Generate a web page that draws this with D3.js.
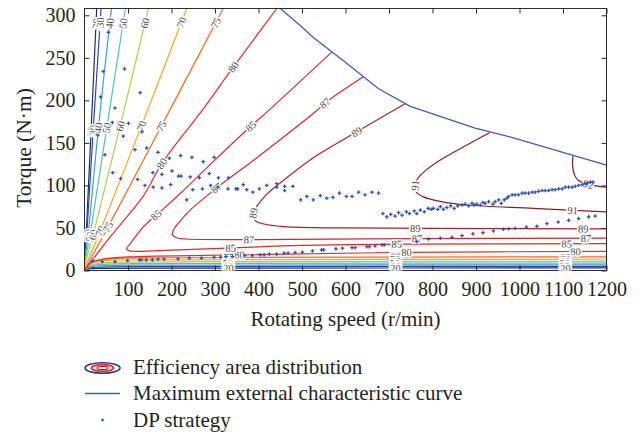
<!DOCTYPE html>
<html><head><meta charset="utf-8">
<script src="https://cdn.jsdelivr.net/npm/d3@7"></script>
<style>
body{margin:0;background:#fff}
svg text{font-family:"Liberation Serif","Times New Roman",serif;}
</style>
</head><body>
<svg id="chart" width="640" height="436"></svg>
<script>
// ---- efficiency contour levels (%) ----
const levels = [20, 30, 40, 50, 60, 70, 75, 80, 85, 87, 89, 91, 92];

// iso-efficiency lines, [speed r/min, torque N·m]
const iso20 = [[28,308],[15,163],[4,44],[0,0],[10,1.8],[40,2.5],[200,2.8],[1200,3]];
const iso30 = [[38,308],[20,165],[5.5,44],[0,0],[10,2.8],[40,4],[200,4.5],[1200,4.8]];
const iso40 = [[62,308],[32,168],[9,44],[0,0],[10,3.8],[40,5.6],[200,6.3],[1200,6.6]];
const iso50 = [[94,308],[51,167],[13.5,44],[0,0],[10,4.8],[40,7.3],[200,8.2],[1200,8.6]];
const iso60 = [[147,308],[82,170],[21,44],[0,0],[12,6],[45,9],[200,10.2],[1200,10.7]];
const iso70 = [[235,308],[131,170],[35,45],[0,0],[12,7.5],[50,11.5],[200,12.6],[1200,13.2]];
const iso75 = [[319,308],[177,170],[54,51],[0,0],[12,8.5],[50,13.5],[200,15],[1200,16]];
const iso80 = [[442,308],[342,239],[270,188],[178,126],[137,89],[60,40],[0,0],[15,9.5],[50,14],[100,16],[356,18.5],[741,21.3],[1200,22.5]];
const iso85 = [[569,257],[423,188],[381,169],[300,130],[217,89],[178,71],[164,65],[133,50],[106,32],[97,26],[101,23.5],[125,22.5],[200,24],[335,26.5],[500,29.5],[718,31],[1200,31.5]];
const iso87 = [[642,228],[553,197],[534,188],[400,134],[304,97],[243,71],[218,57],[204,47],[202,42],[212,38.5],[235,37],[379,36.3],[764,37.5],[1200,38]];
const iso89 = [[737,196],[626,163],[519,130],[450,103],[417,88.6],[397,76],[388,67],[392,59],[410,55],[459,51.5],[600,50],[800,49.5],[1200,49]];
const iso91 = [[931,162],[856,141],[818,130],[785,118],[766,108],[760,100],[763,92],[779,86.6],[820,81],[879,77],[1032,73],[1200,69]];
const iso92 = [[1123,135],[1122,125],[1126,113],[1135,106],[1160,101],[1200,98]];
const isolines = [iso20, iso30, iso40, iso50, iso60, iso70, iso75, iso80, iso85, iso87, iso89, iso91, iso92];

// contour labels: [level, speed, torque]
const contourLabels = [
  [20,24,291],[30,37,291],[40,58,291],[50,90,291],[60,141,291],[70,226,291],[75,303,291],
  [20,14,163],[30,20,165],[40,30,168],[50,51,167],[60,82,170],[70,131,170],[75,177,170],
  [20,3.5,40],[30,5,42],[40,8,42],[50,12,40],[60,19,42],[70,36,46],[75,54,51],
  [80,342,239],[80,178,126],
  [85,164,65],[85,381,170],
  [87,304,97],[87,553,197],
  [89,390,67],[89,626,163],
  [91,760,100],[92,1159,104],
  [80,356,18.5],[80,741,21.3],[80,1129,22.5],
  [85,335,26.5],[85,718,31],[85,1109,31.5],
  [87,379,36.3],[87,764,37.5],[87,1153,38],
  [89,760,49.6],[89,1147,49],
  [91,1122,71],
  [75,330,15],[70,330,12.5],[60,330,10],[50,330,8],[40,330,6],[30,330,4.4],[20,330,2.7],
  [75,715,15.5],[70,715,12.8],[60,715,10.4],[50,715,8.4],[40,715,6.4],[30,715,4.6],[20,715,2.9],
  [75,1105,15.9],[70,1105,13.1],[60,1105,10.6],[50,1105,8.5],[40,1105,6.5],[30,1105,4.7],[20,1105,3]
];

// maximum external characteristic curve
const maxCurve = [[450,308],[496,288],[526,274],[599,245],[676,213.6],[749,193],[898,167.5],[978,157],[1200,124]];

// DP strategy operating points [speed, torque]
const dpPoints = [
  [55,280],[43,234],[92,237],[37,204],[128,209],[70,191],[64,174],[101,173],[31,159],[89,158],
  [132,163],[116,142],[143,144],[169,139],[47,136],[195,132],[221,135],[247,133],[273,128],[298,133],
  [65,115],[83,108],[122,107],[139,100],[158,98],[178,97],[198,101],[157,115],[178,113],[201,117],
  [216,111],[222,111],[243,110],[264,109],[287,114],[308,109],[331,109],[235,83],[249,95],[271,96],
  [290,100],[306,98],[330,96],[348,96],[352,96],[365,101],[373,95],[387,92],[402,96],[419,100],
  [442,102],[442,98],[460,99],[460,94],[479,99],
  [497,83],[511,87],[526,83],[542,88],[557,85],[571,86],[586,91],[602,87],[615,87],[630,92],
  [645,89],[661,92],[676,91],
  [686,67],[695,63],[704,66],[714,64],[722,68],[730,65],[740,69],[747,67],[758,70],[764,67],
  [772,71],[781,69],[790,73],[797,72],[802,73],[812,72],[818,75],[825,72],[833,74],[842,76],
  [850,73],[858,76],[868,77],[875,78],[883,76],[891,79],[896,77],[902,78],[910,77],[916,80],
  [921,79],[929,81],[939,78],[944,81],[952,83],[958,79],[965,83],[971,85],[975,87],[983,89],
  [990,89],[998,89],[1006,91],[1013,91],[1021,91],[1029,92],[1036,92],[1044,93],[1052,94],[1059,94],
  [1067,94],[1075,95],[1082,95],[1090,96],[1098,96],[1105,98],[1113,98],[1121,98],[1128,99],[1136,100],
  [1144,101],[1151,102],[1157,103],[1163,104],[1169,104],
  [18,11.4],[41,10.5],[70,10.5],[99,11.7],[126,12.5],[131,12.5],[142,12.5],[156,12.5],[169,13.3],[183,13.3],
  [215,13.7],[241,14.5],[269,14.5],[298,15.7],[313,15.7],[325,16.4],[340,16.4],[369,17.6],[386,17.6],[404,18.4],
  [413,18.4],[425,19.2],[442,19.2],[459,20.4],[468,20.4],[484,21.1],[501,21.5],[524,23],[545,24.2],[550,24.2],
  [578,25.4],[593,26.2],[615,26.9],[622,26.9],[649,28.1],[655,28.1],[668,28.9],[684,30.1],[689,30.1],
  [764,34],[791,37],[818,38],[845,39],[868,41],[893,43],[916,44.5],[940,46.5],[963,48.5],[975,49],
  [990,49.6],[1016,51],[1040,52],[1063,55],[1089,57],[1113,59],[1136,61],[1159,63],[1174,64]
];

// axis ticks
const xTicks = [100, 200, 300, 400, 500, 600, 700, 800, 900, 1000, 1100, 1200];
const yTicks = [0, 50, 100, 150, 200, 250, 300];

// legend entries
const legendItems = ["Efficiency area distribution", "Maximum external characteristic curve", "DP strategy"];

// ---- styles ----
const levelColors = ["#1f2a7a","#2c4aa5","#3b9bd9","#52c3b0","#a9d046","#f8a51f","#f26a21",
                     "#ea2d22","#dc2a2a","#c72b30","#a82226","#8c1d1f","#7e1a1c"];
const curveBlue = "#3d5cbc";
const dpBlue = "#2f4fb0";
const ink = "#231f20";

const svg = d3.select("#chart");
const x = d3.scaleLinear().domain([0, 1200]).range([84.5, 606.5]);
const y = d3.scaleLinear().domain([0, 308]).range([270.5, 8.5]);

svg.append("defs").append("clipPath").attr("id", "plotClip")
  .append("rect").attr("x", x(0)).attr("y", y(308))
  .attr("width", x(1200) - x(0)).attr("height", y(0) - y(308));

const plot = svg.append("g").attr("clip-path", "url(#plotClip)");
const smooth = d3.line().x(d => x(d[0])).y(d => y(d[1])).curve(d3.curveCatmullRom.alpha(0.5));

// contour lines
const isoNodes = {};
levels.forEach((lv, i) => {
  isoNodes[lv] = plot.append("path")
    .attr("d", smooth(isolines[i]))
    .attr("fill", "none")
    .attr("stroke", levelColors[i])
    .attr("stroke-width", 1.2)
    .node();
});

// maximum torque envelope
plot.append("path")
  .attr("d", d3.line().x(d => x(d[0])).y(d => y(d[1]))(maxCurve))
  .attr("fill", "none").attr("stroke", curveBlue).attr("stroke-width", 1.3);

// frame and ticks
svg.append("rect").attr("x", x(0)).attr("y", y(308))
  .attr("width", x(1200) - x(0)).attr("height", y(0) - y(308))
  .attr("fill", "none").attr("stroke", "#2a2a2a").attr("stroke-width", 1);

function styleAxis(g) {
  g.select(".domain").remove();
  g.attr("font-family", null).attr("font-size", null);
  g.selectAll("line").attr("stroke", "#2a2a2a");
  g.selectAll("text").attr("fill", ink).style("font-size", "20px");
}
const fmt = d3.format("d");
svg.append("g").attr("transform", `translate(0,${y(0)})`)
  .call(d3.axisBottom(x).tickValues(xTicks).tickFormat(fmt).tickSize(-5).tickSizeOuter(0).tickPadding(11)).call(styleAxis);
svg.append("g").attr("transform", `translate(0,${y(308)})`)
  .call(d3.axisTop(x).tickValues(xTicks).tickSize(-5).tickSizeOuter(0).tickFormat("")).call(styleAxis);
svg.append("g").attr("transform", `translate(${x(0)},0)`)
  .call(d3.axisLeft(y).tickValues(yTicks).tickFormat(fmt).tickSize(-5).tickSizeOuter(0).tickPadding(9)).call(styleAxis);
svg.append("g").attr("transform", `translate(${x(1200)},0)`)
  .call(d3.axisRight(y).tickValues(yTicks).tickSize(-5).tickSizeOuter(0).tickFormat("")).call(styleAxis);

// contour labels, set on their own line and turned along it
const labelLayer = svg.append("g").attr("clip-path", "url(#plotClip)");
contourLabels.forEach(([lv, s, t]) => {
  const node = isoNodes[lv];
  const total = node.getTotalLength();
  const px = x(s), py = y(t);
  let best = 0, bestD = Infinity;
  for (let L = 0; L <= total; L += 1) {
    const p = node.getPointAtLength(L);
    const d = (p.x - px) ** 2 + (p.y - py) ** 2;
    if (d < bestD) { bestD = d; best = L; }
  }
  const p = node.getPointAtLength(best);
  const a = node.getPointAtLength(Math.max(0, best - 3));
  const b = node.getPointAtLength(Math.min(total, best + 3));
  let ang = Math.atan2(b.y - a.y, b.x - a.x) * 180 / Math.PI;
  if (ang > 90) ang -= 180;
  if (ang < -90) ang += 180;
  labelLayer.append("text")
    .attr("transform", `translate(${p.x},${p.y}) rotate(${ang})`)
    .attr("text-anchor", "middle").attr("dy", "0.35em")
    .style("font-size", "10.5px")
    .attr("fill", "#4a4a4a")
    .attr("stroke", "#fff").attr("stroke-width", 3.2).attr("paint-order", "stroke")
    .text(lv);
});

// DP strategy points
const cross = (g, cx, cy, r) => g.append("path")
  .attr("d", `M${cx - r},${cy}H${cx + r}M${cx},${cy - r}V${cy + r}`)
  .attr("stroke", dpBlue).attr("stroke-width", 1.25).attr("fill", "none");
const dpLayer = svg.append("g").attr("clip-path", "url(#plotClip)");
dpPoints.forEach(d => cross(dpLayer, x(d[0]), y(d[1]), 1.8));

// axis titles
svg.append("text").attr("x", (x(0) + x(1200)) / 2).attr("y", 326)
  .attr("text-anchor", "middle").attr("fill", ink).style("font-size", "21px")
  .text("Rotating speed (r/min)");
svg.append("text").attr("transform", `translate(31,148) rotate(-90)`)
  .attr("text-anchor", "middle").attr("fill", ink).style("font-size", "21.5px")
  .text("Torque (N·m)");

// legend
const lg = svg.append("g");
const ic = { x: 102.5, y: 368 };
lg.append("ellipse").attr("cx", ic.x).attr("cy", ic.y).attr("rx", 17.5).attr("ry", 5.2)
  .attr("fill", "none").attr("stroke", "#26328f").attr("stroke-width", 1.6);
lg.append("ellipse").attr("cx", ic.x).attr("cy", ic.y).attr("rx", 11).attr("ry", 3.3)
  .attr("fill", "none").attr("stroke", "#e52a25").attr("stroke-width", 1.7);
lg.append("ellipse").attr("cx", ic.x).attr("cy", ic.y).attr("rx", 5.5).attr("ry", 1.6)
  .attr("fill", "none").attr("stroke", "#9b1c20").attr("stroke-width", 1.2);
lg.append("line").attr("x1", 85).attr("x2", 120).attr("y1", 393.5).attr("y2", 393.5)
  .attr("stroke", curveBlue).attr("stroke-width", 1.3);
cross(lg, 102.5, 420, 1.4);
legendItems.forEach((t, i) => {
  lg.append("text").attr("x", 133).attr("y", 373.5 + i * 26.5)
    .attr("fill", ink).style("font-size", "21px").text(t);
});
</script>
</body></html>
